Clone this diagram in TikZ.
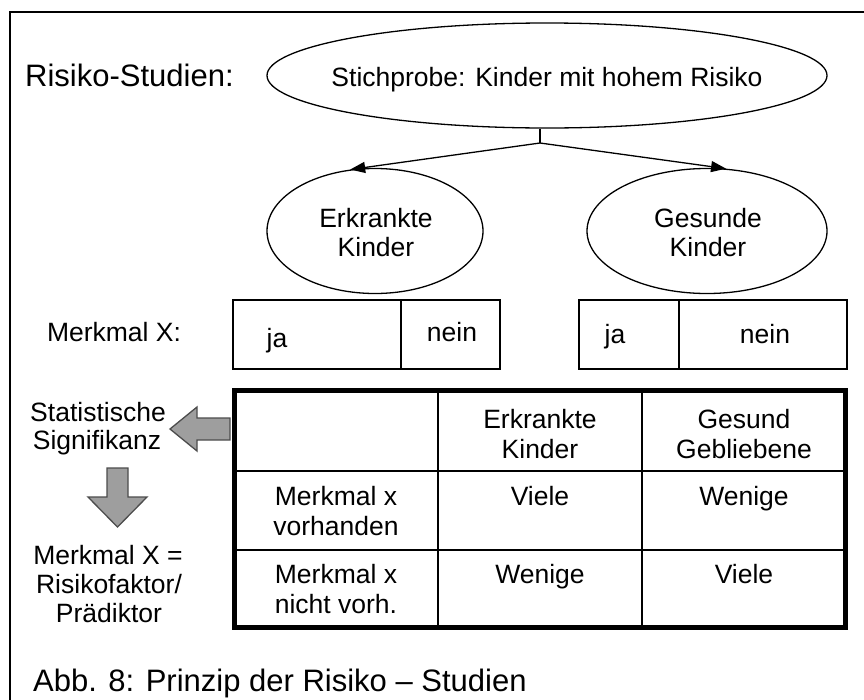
\documentclass[tikz,border=0pt]{standalone}
\usepackage{fontspec}
\setmainfont{Liberation Sans}
\usetikzlibrary{shapes.geometric,arrows.meta}
\begin{document}
\begin{tikzpicture}[x=1pt,y=-1pt,
  txt/.style={font=\fontsize{26.5}{29}\selectfont, inner sep=0pt, anchor=base},
  big/.style={font=\fontsize{31}{34}\selectfont, inner sep=0pt, anchor=base west},
  oval/.style={ellipse, draw, line width=1.3pt, inner sep=0pt},
  cellbox/.style={draw, line width=1.3pt, inner sep=0pt, minimum height=69pt},
  conn/.style={line width=1.3pt},
  tip/.style={-{Triangle[length=15pt,width=11pt]}},
  thin/.style={line width=1.4pt},
  blockarrow/.style={fill=black!38, draw=black!70, line width=1.3pt, line join=miter}]
\useasboundingbox (0,0) rectangle (864,699);
% outer frame (cut off right and bottom)
\draw[line width=2pt] (10,710) -- (10,12) -- (880,12);

% title
\node[big] (title) at (25,86) {Risiko-Studien:};

% ellipses
\node[oval, minimum width=560pt, minimum height=105pt] (top) at (547,75.5) {};
\node[txt] (toptext) at (547,86) {Stichprobe: Kinder mit hohem Risiko};
\node[oval, minimum width=216pt, minimum height=125pt] (L) at (375,231) {};
\node[txt] (L1) at (376,227) {Erkrankte};
\node[txt] (L2) at (376,256) {Kinder};
\node[oval, minimum width=240pt, minimum height=125pt] (R) at (707,231) {};
\node[txt] (R1) at (708,227) {Gesunde};
\node[txt] (R2) at (708,256) {Kinder};

% connectors
\coordinate (J) at (540,143);
\draw[conn] (J |- top.south) -- (J);
\draw[conn,tip] (J) -- (L.112);
\draw[conn,tip] (J) -- (R.73);

% Merkmal X boxes
\node[txt] (mx) at (114,341) {Merkmal X:};
\node[cellbox, minimum width=168pt] (la) at (317,334.5) {};
\node[cellbox, minimum width=99pt] (lb) at (450.5,334.5) {};
\node[cellbox, minimum width=100pt] (ra) at (629,334.5) {};
\node[cellbox, minimum width=168pt] (rb) at (763,334.5) {};
\node[txt] (ja1) at (277,347) {ja};
\node[txt] (nein1) at (452,341) {nein};
\node[txt] (ja2) at (615,343) {ja};
\node[txt] (nein2) at (765,343) {nein};

% table
\draw[thin] (438,390.5) -- (438,627.5);
\draw[thin] (642,390.5) -- (642,627.5);
\draw[thin] (234.5,471) -- (845.5,471);
\draw[thin] (234.5,550) -- (845.5,550);
\draw[line width=5pt] (234.5,390.5) rectangle (845.5,627.5);

\node[txt] (h1a) at (540,428) {Erkrankte};
\node[txt] (h1b) at (540,458) {Kinder};
\node[txt] (h2a) at (744,428) {Gesund};
\node[txt] (h2b) at (744,458) {Gebliebene};
\node[txt] (r1a) at (336,505) {Merkmal x};
\node[txt] (r1b) at (336,535) {vorhanden};
\node[txt] (r2a) at (336,583) {Merkmal x};
\node[txt] (r2b) at (336,613) {nicht vorh.};
\node[txt] (c11) at (540,505) {Viele};
\node[txt] (c12) at (744,505) {Wenige};
\node[txt] (c21) at (540,583) {Wenige};
\node[txt] (c22) at (744,583) {Viele};

% left side
\node[txt] (s1) at (98,421) {Statistische};
\node[txt] (s2) at (97,449) {Signifikanz};
\node[txt] (m1) at (108,564) {Merkmal X =};
\node[txt] (m2) at (109,593) {Risikofaktor/};
\node[txt] (m3) at (109,622) {Prädiktor};

% block arrows
\draw[blockarrow] (230,418) -- (197,418) -- (197,407) -- (170,429) -- (197,451) -- (197,440) -- (230,440) -- cycle;
\draw[blockarrow] (107,468) -- (128,468) -- (128,497) -- (147,497) -- (117.5,527) -- (88,497) -- (107,497) -- cycle;

% caption
\node[big] (cap) at (33,691) {Abb. 8: Prinzip der Risiko – Studien};
\end{tikzpicture}
\end{document}
